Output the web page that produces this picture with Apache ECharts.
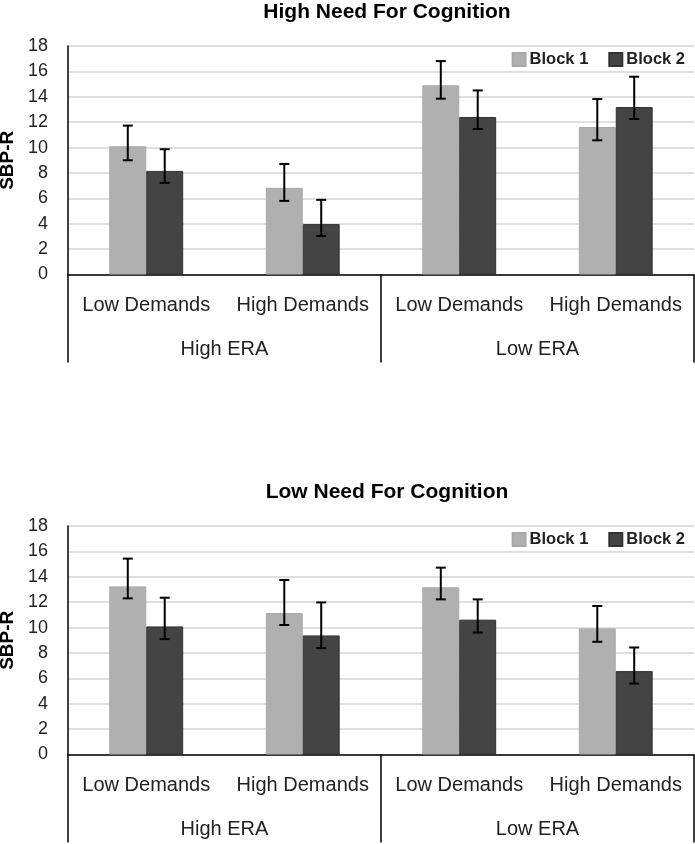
<!DOCTYPE html>
<html>
<head>
<meta charset="utf-8">
<script src="https://cdn.jsdelivr.net/npm/echarts@6/dist/echarts.min.js"></script>
<style>
html,body{margin:0;padding:0;background:#fff;}
#chart{width:695px;height:844px;}
</style>
</head>
<body>
<div id="chart"></div>
<script>
// ---- data ----
const categories = ['Low Demands', 'High Demands', 'Low Demands', 'High Demands'];
const groups = ['High ERA', 'Low ERA'];
const seriesNames = ['Block 1', 'Block 2'];
const titles = ['High Need For Cognition', 'Low Need For Cognition'];
const yAxisName = 'SBP-R';
const yMin = 0, yMax = 18, yStep = 2;

// High Need For Cognition
const highB1 = [10.1, 6.83, 14.9, 11.62];
const highB1Lo = [9.0, 5.8, 13.85, 10.57];
const highB1Hi = [11.73, 8.71, 16.81, 13.82];
const highB2 = [8.16, 3.97, 12.41, 13.19];
const highB2Lo = [7.22, 3.03, 11.46, 12.25];
const highB2Hi = [9.87, 5.88, 14.5, 15.58];

// Low Need For Cognition
const lowB1 = [13.24, 11.14, 13.17, 9.93];
const lowB1Lo = [12.3, 10.2, 12.22, 8.88];
const lowB1Hi = [15.43, 13.75, 14.72, 11.7];
const lowB2 = [10.09, 9.38, 10.62, 6.57];
const lowB2Lo = [9.09, 8.38, 9.61, 5.59];
const lowB2Hi = [12.35, 11.98, 12.22, 8.43];

// ---- styles ----
const FONT = '"Liberation Sans", Arial, sans-serif';
const COLORS = ['#b0b0b0', '#444444'];
const BAR_FRAC = 0.236;
const gridTops = [46, 526];
const GRID_H = 228.5;

const panels = [
  {b: [highB1, highB2], lo: [highB1Lo, highB2Lo], hi: [highB1Hi, highB2Hi]},
  {b: [lowB1, lowB2], lo: [lowB1Lo, lowB2Lo], hi: [lowB1Hi, lowB2Hi]}
];

const option = {
  backgroundColor: '#fff',
  animation: false,
  title: [],
  legend: [],
  grid: [],
  xAxis: [],
  yAxis: [],
  series: []
};

panels.forEach((p, g) => {
  const top = gridTops[g];
  option.title.push({
    text: titles[g], left: 382, top: top - 49, textAlign: 'center',
    textStyle: {fontFamily: FONT, fontWeight: 'bold', fontSize: 21, color: '#000'}
  });
  option.legend.push({
    data: seriesNames, right: 5, top: top,
    icon: 'rect', itemWidth: 13, itemHeight: 13, itemGap: 20,
    textStyle: {fontFamily: FONT, fontWeight: 'bold', fontSize: 16.5, color: '#222', padding: [0, 0, 0, -1]}
  });
  option.grid.push({left: 68, right: 1, top: top, height: GRID_H, containLabel: false, outerBoundsMode: 'none'});
  option.yAxis.push({
    type: 'value', gridIndex: g, min: yMin, max: yMax, interval: yStep,
    name: yAxisName, nameLocation: 'middle', nameGap: 51, nameRotate: 90, nameMoveOverlap: false,
    nameTextStyle: {fontFamily: FONT, fontWeight: 'bold', fontSize: 19, color: '#000'},
    axisLine: {show: true, lineStyle: {color: '#000', width: 1.5}},
    axisTick: {show: false},
    axisLabel: {fontFamily: FONT, fontSize: 18, color: '#222', margin: 20},
    splitLine: {show: true, lineStyle: {color: '#d4d4d4', width: 1.5}}
  });
  option.xAxis.push({
    type: 'category', gridIndex: g, data: categories, position: 'bottom',
    axisLine: {show: true, onZero: false, lineStyle: {color: '#000', width: 1.5}},
    axisTick: {show: false},
    axisLabel: {fontFamily: FONT, fontSize: 20, color: '#222', margin: 21, interval: 0}
  });
  option.xAxis.push({
    type: 'category', gridIndex: g, data: groups, position: 'bottom',
    axisLine: {show: false, onZero: false},
    axisTick: {show: true, length: 88, interval: 0, lineStyle: {color: '#000', width: 1.5}},
    axisLabel: {fontFamily: FONT, fontSize: 20, color: '#222', margin: 65, interval: 0}
  });
  const xIdx = g * 2;
  [0, 1].forEach(s => {
    option.series.push({
      name: seriesNames[s], type: 'bar', xAxisIndex: xIdx, yAxisIndex: g,
      data: p.b[s], barWidth: (BAR_FRAC * 100) + '%', barGap: '0%',
      itemStyle: {color: COLORS[s], borderColor: s === 0 ? '#a8a8a8' : '#333', borderWidth: 1}
    });
  });
  [0, 1].forEach(s => {
    const sign = s === 0 ? -1 : 1;
    option.series.push({
      name: seriesNames[s], type: 'custom', xAxisIndex: xIdx, yAxisIndex: g, z: 5,
      data: p.b[s].map((v, i) => [i, p.lo[s][i], p.hi[s][i]]),
      renderItem: function (params, api) {
        const i = api.value(0);
        const pHi = api.coord([i, api.value(2)]);
        const pLo = api.coord([i, api.value(1)]);
        const band = api.size([1, 0])[0];
        const x = pHi[0] + sign * band * BAR_FRAC / 2;
        const cap = 5;
        const st = {stroke: '#000', lineWidth: 2};
        return {
          type: 'group',
          children: [
            {type: 'line', shape: {x1: x, y1: pHi[1], x2: x, y2: pLo[1]}, style: st},
            {type: 'line', shape: {x1: x - cap, y1: pHi[1], x2: x + cap, y2: pHi[1]}, style: st},
            {type: 'line', shape: {x1: x - cap, y1: pLo[1], x2: x + cap, y2: pLo[1]}, style: st}
          ]
        };
      }
    });
  });
});

const chart = echarts.init(document.getElementById('chart'), null, {renderer: 'canvas'});
chart.setOption(option);
</script>
</body>
</html>
